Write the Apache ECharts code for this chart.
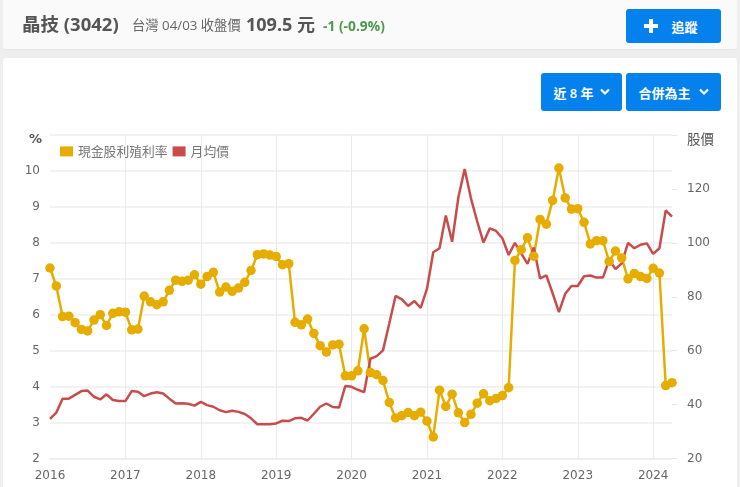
<!DOCTYPE html>
<html>
<head>
<meta charset="utf-8">
<title>晶技 (3042)</title>
<script src="https://cdn.jsdelivr.net/npm/echarts@6/dist/echarts.min.js"></script>
<style>
html, body { margin: 0; padding: 0; width: 740px; height: 487px; overflow: hidden; background: #eeeeee; font-family: "Open Sans", "Noto Sans CJK TC", sans-serif; }
.panel { position: absolute; left: 3px; width: 734px; border-radius: 3px; }
#top { top: -4px; height: 53px; background: #fafafa; box-shadow: 0 1px 1px #e4e4e4; }
#main { top: 58px; height: 440px; background: #fff; }
#chart { position: absolute; left: 0; top: 0; width: 740px; height: 487px; }
.txt { position: absolute; white-space: nowrap; color: #555; }
.btn { position: absolute; background: #0481ec; border-radius: 3px; color: #fff; font-size: 13px; font-weight: 600; display: flex; align-items: center; justify-content: center; }
.btn svg { display: block; }
</style>
</head>
<body>
<div class="panel" id="top"></div>
<div class="panel" id="main"></div>
<div id="chart"></div>

<div class="txt" style="left:22px;top:10px;font-size:18.5px;font-weight:700;">晶技 (3042)</div>
<div class="txt" style="left:132px;top:15px;font-size:13.3px;color:#666;">台灣 04/03 收盤價</div>
<div class="txt" style="left:246px;top:10px;font-size:18px;font-weight:700;">109.5 元</div>
<div class="txt" style="left:323px;top:16px;font-size:13.8px;font-weight:700;color:#4c9a4c;">-1 (-0.9%)</div>

<div class="btn" style="left:626px;top:9px;width:95px;height:34px;">
  <svg width="16" height="16" style="margin-right:12px;margin-left:-6px"><path d="M8 1v14M1 8h14" stroke="#fff" stroke-width="4"/></svg>追蹤
</div>
<div class="btn" style="left:541px;top:73px;width:81px;height:38px;">
  近 8 年<svg width="10" height="8" style="margin-left:6px"><path d="M1 1.5l4 4 4-4" stroke="#fff" stroke-width="2.2" fill="none"/></svg>
</div>
<div class="btn" style="left:626px;top:73px;width:95px;height:38px;">
  合併為主<svg width="10" height="8" style="margin-left:8px"><path d="M1 1.5l4 4 4-4" stroke="#fff" stroke-width="2.2" fill="none"/></svg>
</div>

<script>
var years = ['2016', '2017', '2018', '2019', '2020', '2021', '2022', '2023', '2024'];
var leftTicks = ['2', '3', '4', '5', '6', '7', '8', '9', '10'];

var yieldRate = [
    7.30, 6.80, 5.95, 5.96, 5.78, 5.59, 5.55, 5.85, 6.00, 5.70, 6.04, 6.08,
    6.07, 5.58, 5.60, 6.52, 6.36, 6.28, 6.36, 6.68, 6.96, 6.93, 6.96, 7.11,
    6.85, 7.06, 7.18, 6.63, 6.77, 6.65, 6.74, 6.90, 7.23, 7.67, 7.69, 7.66,
    7.62, 7.39, 7.42, 5.79, 5.72, 5.88, 5.48, 5.14, 4.96, 5.16, 5.18, 4.30,
    4.30, 4.44, 5.61, 4.39, 4.33, 4.17, 3.56, 3.13, 3.19, 3.28, 3.19, 3.29,
    3.04, 2.60, 3.90, 3.45, 3.79, 3.27, 3.00, 3.23, 3.54, 3.80, 3.61, 3.67,
    3.75, 3.97, 7.51, 7.81, 8.14, 7.63, 8.65, 8.52, 9.18, 10.08, 9.25, 8.94,
    8.95, 8.57, 7.97, 8.06, 8.06, 7.48, 7.77, 7.58, 7.00, 7.15, 7.06, 7.01,
    7.29, 7.16, 4.03, 4.11
];

var monthlyPrice = [
    34.7, 37.0, 42.2, 42.2, 43.6, 45.0, 45.2, 42.9, 41.9, 43.8, 41.7, 41.3,
    41.3, 45.0, 44.8, 43.1, 44.1, 44.6, 44.1, 42.2, 40.4, 40.5, 40.3, 39.6,
    41.0, 39.8, 39.2, 37.9, 37.2, 37.7, 37.3, 36.5, 34.9, 32.7, 32.7, 32.7,
    33.0, 34.0, 33.9, 34.9, 35.1, 34.1, 36.6, 39.2, 40.4, 39.1, 38.9, 46.9,
    46.6, 45.5, 44.6, 57.0, 58.0, 60.1, 70.1, 80.3, 79.0, 76.6, 78.4, 75.9,
    82.9, 96.5, 98.0, 110.1, 100.4, 116.9, 127.4, 116.5, 107.9, 100.1, 105.4, 104.4,
    101.7, 95.5, 100.0, 96.1, 92.2, 98.3, 86.8, 87.9, 81.3, 74.3, 81.1, 84.0,
    84.0, 87.6, 87.9, 87.1, 87.1, 93.6, 90.3, 92.4, 100.0, 98.0, 99.3, 99.8,
    95.9, 98.0, 112.0, 109.7
];

// one label per month, only January gets shown
var months = yieldRate.map(function(v, i) {
    return years[Math.floor(i / 12)] + '-' + (i % 12 + 1);
});
function isJanuary(index) {
    return index % 12 === 0;
}

var chart = echarts.init(document.getElementById('chart'));
var axisText = { color: '#666', fontSize: 12, fontFamily: 'DejaVu Sans' };
var gridLine = { lineStyle: { color: '#eeeeee', width: 1.5 } };

chart.setOption({
    animation: false,
    textStyle: { fontFamily: '"Noto Sans CJK TC", sans-serif' },
    legend: {
        left: 55,
        top: 140,
        itemWidth: 13,
        itemHeight: 10,
        itemGap: 5,
        icon: 'rect',
        textStyle: { color: '#777', fontSize: 12.8, padding: [0, 0, 0, 0] },
        data: ['現金股利殖利率', '月均價']
    },
    grid: { left: 50, right: 68, top: 135, bottom: 28.5 },
    xAxis: {
        type: 'category',
        data: months,
        boundaryGap: false,
        axisLine: { lineStyle: { color: '#eeeeee', width: 1.5 } },
        axisTick: { show: false },
        axisLabel: {
            ...axisText,
            interval: function(index) { return isJanuary(index); },
            formatter: function(value) { return value.split('-')[0]; },
            margin: 11
        },
        splitLine: {
            show: true,
            interval: function(index) { return index > 0 && isJanuary(index); },
            lineStyle: { color: '#eaeaea', width: 1 }
        }
    },
    yAxis: [{
        type: 'value',
        min: 2,
        max: 11,
        interval: 1,
        name: '%',
        nameLocation: 'end',
        nameGap: -11,
        nameTextStyle: { color: '#555', fontSize: 13, fontWeight: 'bold', fontFamily: 'DejaVu Sans', align: 'right', padding: [0, 8, 0, 0] },
        axisLine: { show: false },
        axisTick: { show: false },
        axisLabel: {
            ...axisText,
            margin: 10,
            formatter: function(value) { return leftTicks.indexOf(String(value)) >= 0 ? value : ''; }
        },
        splitLine: { show: true, ...gridLine }
    }, {
        type: 'value',
        min: 20,
        max: 140,
        interval: 20,
        name: '股價',
        nameLocation: 'end',
        nameGap: -11,
        nameTextStyle: { color: '#555', fontSize: 13.5, align: 'left', padding: [0, 0, 0, 15] },
        axisLine: { show: false },
        axisTick: { show: true, length: 5, lineStyle: { color: '#e6e6e6' } },
        axisLabel: {
            ...axisText,
            margin: 15,
            formatter: function(value) { return value === 140 ? '' : value; }
        },
        splitLine: { show: false }
    }],
    series: [{
        name: '現金股利殖利率',
        type: 'line',
        yAxisIndex: 0,
        data: yieldRate,
        showAllSymbol: true,
        symbol: 'circle',
        symbolSize: 9.5,
        lineStyle: { color: '#e6ac00', width: 2.5 },
        itemStyle: { color: '#e6ac00' }
    }, {
        name: '月均價',
        type: 'line',
        yAxisIndex: 1,
        data: monthlyPrice,
        showSymbol: false,
        lineStyle: { color: '#c94c4c', width: 2.5 },
        itemStyle: { color: '#c94c4c' }
    }]
});
</script>
</body>
</html>
